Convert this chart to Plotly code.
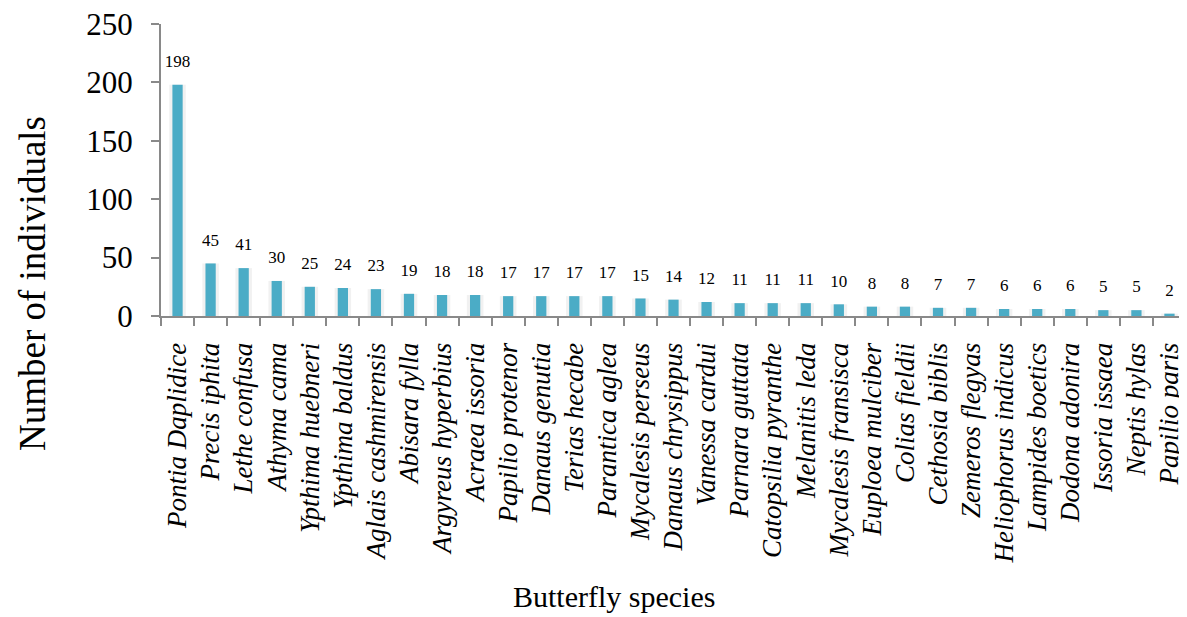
import plotly.graph_objects as go

species = ["Pontia Daplidice", "Precis iphita", "Lethe confusa", "Athyma cama",
           "Ypthima huebneri", "Ypthima baldus", "Aglais cashmirensis", "Abisara fylla",
           "Argyreus hyperbius", "Acraea issoria", "Papilio protenor", "Danaus genutia",
           "Terias hecabe", "Parantica aglea", "Mycalesis perseus", "Danaus chrysippus",
           "Vanessa cardui", "Parnara guttata", "Catopsilia pyranthe", "Melanitis leda",
           "Mycalesis fransisca", "Euploea mulciber", "Colias fieldii", "Cethosia biblis",
           "Zemeros flegyas", "Heliophorus indicus", "Lampides boetics", "Dodona adonira",
           "Issoria issaea", "Neptis hylas", "Papilio paris"]
counts = [198, 45, 41, 30, 25, 24, 23, 19, 18, 18, 17, 17, 17, 17, 15, 14, 12, 11, 11, 11,
          10, 8, 8, 7, 7, 6, 6, 6, 5, 5, 2]
y_ticks = [0, 50, 100, 150, 200, 250]

serif = "Liberation Serif, Times New Roman, serif"

# page is rendered with 8px body margin
W, H = 1179, 609
L, R, T, B = 153, 1, 16, 301
plot_w = W - L - R
plot_h = H - T - B


def px_to_paper(px, py):
    """page pixel -> paper coords"""
    fx, fy = px - 8, py - 8
    return (fx - L) / plot_w, (H - B - fy) / plot_h


fig = go.Figure()
# faint shadow behind bars
fig.add_trace(go.Bar(x=species, y=counts, width=0.5,
                     marker=dict(color="rgba(190,190,190,0.22)", line=dict(width=0)),
                     hoverinfo="skip", showlegend=False))
fig.add_trace(go.Bar(x=species, y=counts, width=0.31,
                     marker=dict(color="#4BACC6", line=dict(width=0)),
                     showlegend=False))
# value labels
fig.add_trace(go.Scatter(x=species, y=counts, mode="markers+text",
                         text=[str(c) for c in counts], textposition="top center",
                         marker=dict(size=20, opacity=0),
                         textfont=dict(family=serif, size=17, color="black"),
                         cliponaxis=False, hoverinfo="skip", showlegend=False))

xt_x, xt_y = px_to_paper(614, 596)
yt_x, yt_y = px_to_paper(32, 284)

fig.update_layout(
    barmode="overlay",
    width=W, height=H,
    margin=dict(l=L, r=R, t=T, b=B),
    plot_bgcolor="white", paper_bgcolor="white",
    font=dict(family=serif, color="black"),
    xaxis=dict(
        automargin=False,
        range=[-0.5, len(species) - 0.5],
        tickmode="array", tickvals=species, ticktext=["<i>%s</i>" % s for s in species],
        tickangle=-90,
        tickfont=dict(family=serif, size=27, color="black"),
        ticklabelstandoff=14,
        showline=True, linecolor="#898989", linewidth=2,
        ticks="outside", tickson="boundaries", ticklen=8, tickcolor="#898989", tickwidth=2,
        showgrid=False,
    ),
    yaxis=dict(
        automargin=False,
        range=[0, 250], tickvals=y_ticks,
        tickfont=dict(family=serif, size=31, color="black"),
        ticklabelstandoff=12, ticklabeloverflow="allow",
        showline=True, linecolor="#898989", linewidth=2,
        ticks="outside", ticklen=8, tickcolor="#898989", tickwidth=2,
        showgrid=False, zeroline=False,
    ),
    annotations=[
        dict(text="Butterfly species", xref="paper", yref="paper", x=xt_x, y=xt_y,
             xanchor="center", yanchor="middle", showarrow=False,
             font=dict(family=serif, size=30)),
        dict(text="Number of individuals", textangle=-90, xref="paper", yref="paper",
             x=yt_x, y=yt_y, xanchor="center", yanchor="middle", showarrow=False,
             font=dict(family=serif, size=37)),
    ],
)
fig.write_html("out.html")
